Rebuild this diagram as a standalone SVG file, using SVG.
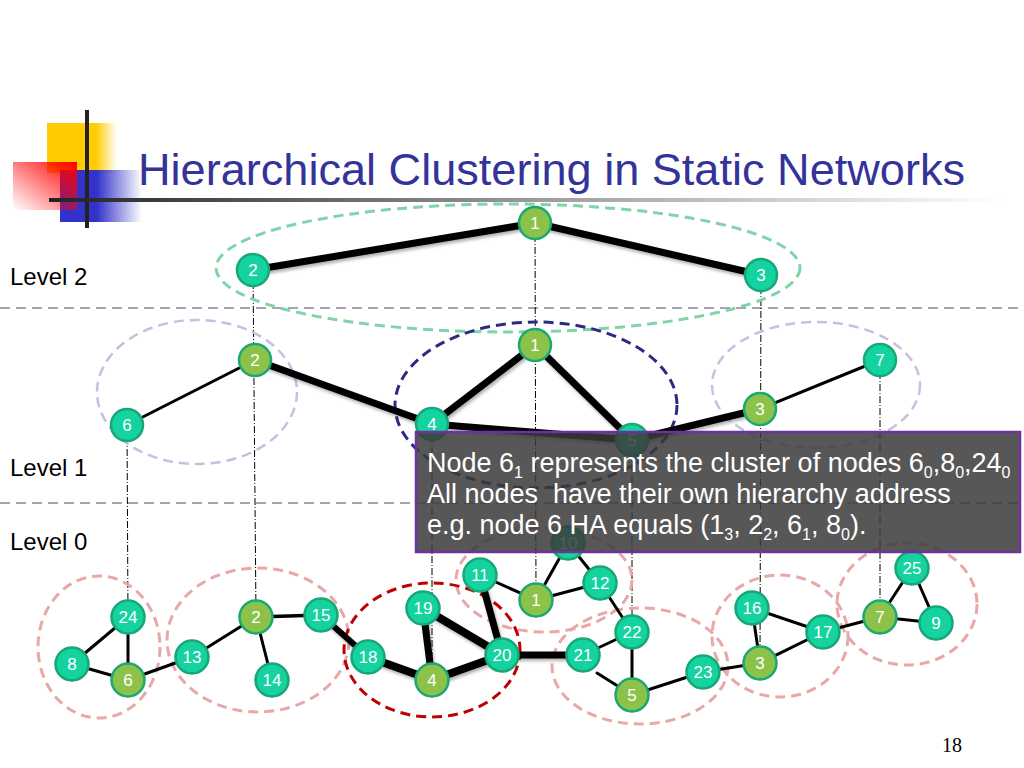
<svg xmlns="http://www.w3.org/2000/svg" width="1024" height="768" viewBox="0 0 1024 768">
<defs>
<linearGradient id="gYel" x1="0" y1="0" x2="1" y2="0"><stop offset="0.7" stop-color="#ffcc00"/><stop offset="1" stop-color="#ffcc00" stop-opacity="0"/></linearGradient>
<linearGradient id="gBlue" x1="0" y1="0" x2="1" y2="0"><stop offset="0.45" stop-color="#3333cc"/><stop offset="1" stop-color="#3333cc" stop-opacity="0"/></linearGradient>
<linearGradient id="gRed" x1="1" y1="0" x2="0" y2="1"><stop offset="0" stop-color="#ff0000"/><stop offset="1" stop-color="#ff0000" stop-opacity="0"/></linearGradient>
<linearGradient id="gLine" x1="0" y1="0" x2="1" y2="0"><stop offset="0" stop-color="#222"/><stop offset="0.5" stop-color="#999"/><stop offset="1" stop-color="#fff"/></linearGradient>
<filter id="sh" x="-10%" y="-50%" width="120%" height="200%"><feDropShadow dx="1.5" dy="2.5" stdDeviation="1.5" flood-color="#000" flood-opacity="0.3"/></filter>
</defs>
<style>
.t{font-family:"Liberation Sans",Arial,sans-serif}
.lvl{font-family:"Liberation Sans",Arial,sans-serif;font-size:24px;fill:#000}
.sep{stroke:#8e80a6;stroke-width:1.5;stroke-dasharray:10 6;fill:none}
.vd{stroke:#000;stroke-width:1;stroke-dasharray:7 2 1 2;fill:none}
.e{stroke:#000;stroke-linecap:round;fill:none}
.thin{stroke-width:3}
.thick{stroke-width:7}
.el{fill:none;stroke-width:3;stroke-dasharray:10 6}
.pink{stroke:#e8a8a8}
.lav{stroke:#c4c0e0;stroke-width:2.5}
.navy{stroke:#2b2b85}
.grn{stroke:#7fd4a8}
.dred{stroke:#c00000}
.nt{fill:#14d3a0;stroke:#18a775;stroke-width:2.5}
.nl{fill:#8cc24a;stroke:#1aa873;stroke-width:2.5}
.lab{font-family:"Liberation Sans",Arial,sans-serif;font-size:17px;fill:#fff;text-anchor:middle}
.box{font-family:"Liberation Sans",Arial,sans-serif;font-size:27px;fill:#fff}
.sub{font-size:16px}
</style>
<rect width="1024" height="768" fill="#fff"/>
<!-- logo -->
<rect x="47" y="123" width="70" height="50" fill="url(#gYel)"/>
<rect x="60" y="170" width="82" height="52" fill="url(#gBlue)"/>
<rect x="13" y="162" width="64" height="48" fill="url(#gRed)"/>
<line x1="87" y1="110" x2="87" y2="228" stroke="#222" stroke-width="4"/>
<rect x="49" y="198" width="955" height="4" fill="url(#gLine)"/>
<text class="t" x="138" y="185" font-size="45" fill="#333399" textLength="827" lengthAdjust="spacingAndGlyphs">Hierarchical Clustering in Static Networks</text>
<!-- level labels -->
<text class="lvl" x="10" y="285">Level 2</text>
<text class="lvl" x="10" y="476">Level 1</text>
<text class="lvl" x="10" y="550">Level 0</text>
<line class="sep" x1="0" y1="308" x2="1024" y2="308"/>
<line class="sep" x1="0" y1="503" x2="1024" y2="503"/>
<!-- vertical projections -->
<g id="projections">
<line class="vd" x1="253" y1="270" x2="256" y2="617"/>
<line class="vd" x1="535" y1="223" x2="536" y2="600"/>
<line class="vd" x1="761" y1="275" x2="760" y2="663"/>
<line class="vd" x1="127" y1="425" x2="128" y2="617"/>
<line class="vd" x1="432" y1="424" x2="432" y2="680"/>
<line class="vd" x1="632" y1="440" x2="632" y2="695"/>
<line class="vd" x1="880" y1="360" x2="880" y2="617"/>
</g>
<!-- clusters -->
<g id="clusters">
<ellipse class="el grn" cx="508" cy="268" rx="292" ry="64"/>
<ellipse class="el lav" cx="197" cy="392" rx="100" ry="72"/>
<ellipse class="el navy" cx="536" cy="405" rx="141" ry="83"/>
<ellipse class="el lav" cx="816" cy="385" rx="104" ry="63"/>
<ellipse class="el pink" cx="99" cy="647" rx="61" ry="71"/>
<ellipse class="el pink" cx="258" cy="640" rx="91" ry="72"/>
<ellipse class="el pink" cx="544" cy="580" rx="88" ry="52"/>
<ellipse class="el pink" cx="640" cy="666" rx="88" ry="58"/>
<ellipse class="el pink" cx="780" cy="636" rx="68" ry="61"/>
<ellipse class="el pink" cx="907" cy="604" rx="70" ry="61"/>
<ellipse class="el dred" cx="432" cy="650" rx="88" ry="67"/>
</g>
<!-- connectors -->
<g id="connectors">
<g filter="url(#sh)">
<line class="e thick" x1="253" y1="270" x2="535" y2="223"/>
<line class="e thick" x1="535" y1="223" x2="761" y2="275"/>
<line class="e thick" x1="255" y1="360" x2="432" y2="424"/>
<line class="e thick" x1="432" y1="424" x2="535" y2="345"/>
<line class="e thick" x1="535" y1="345" x2="632" y2="440"/>
<line class="e thick" x1="432" y1="424" x2="632" y2="440"/>
<line class="e thick" x1="632" y1="440" x2="760" y2="409"/>
<line class="e" stroke-width="6" x1="321" y1="615" x2="368" y2="657"/>
<line class="e" stroke-width="8" x1="368" y1="657" x2="432" y2="680"/>
<line class="e" stroke-width="7" x1="423" y1="608" x2="432" y2="680"/>
<line class="e" stroke-width="8" x1="423" y1="608" x2="502" y2="655"/>
<line class="e" stroke-width="8" x1="432" y1="680" x2="502" y2="655"/>
<line class="e" stroke-width="7" x1="480" y1="575" x2="502" y2="655"/>
<line class="e" stroke-width="7" x1="502" y1="655" x2="583" y2="655"/>
</g>
<line class="e thin" x1="127" y1="425" x2="255" y2="360"/>
<line class="e thin" x1="760" y1="409" x2="880" y2="360"/>
<line class="e thin" x1="128" y1="617" x2="72" y2="664"/>
<line class="e thin" x1="128" y1="617" x2="128" y2="680"/>
<line class="e thin" x1="72" y1="664" x2="128" y2="680"/>
<line class="e thin" x1="128" y1="680" x2="192" y2="657"/>
<line class="e thin" x1="192" y1="657" x2="256" y2="617"/>
<line class="e thin" x1="256" y1="617" x2="272" y2="680"/>
<line class="e" stroke-width="3.5" x1="256" y1="617" x2="321" y2="615"/>
<line class="e thin" x1="480" y1="575" x2="536" y2="600"/>
<line class="e thin" x1="536" y1="600" x2="568" y2="543"/>
<line class="e thin" x1="568" y1="543" x2="600" y2="583"/>
<line class="e thin" x1="536" y1="600" x2="600" y2="583"/>
<line class="e thin" x1="600" y1="583" x2="632" y2="632"/>
<line class="e thin" x1="583" y1="655" x2="632" y2="632"/>
<line class="e thin" x1="632" y1="632" x2="632" y2="695"/>
<line class="e thin" x1="597" y1="673" x2="632" y2="695"/>
<line class="e thin" x1="632" y1="695" x2="703" y2="672"/>
<line class="e thin" x1="703" y1="672" x2="760" y2="663"/>
<line class="e thin" x1="760" y1="663" x2="752" y2="608"/>
<line class="e thin" x1="752" y1="608" x2="823" y2="632"/>
<line class="e thin" x1="760" y1="663" x2="823" y2="632"/>
<line class="e thin" x1="823" y1="632" x2="880" y2="617"/>
<line class="e thin" x1="880" y1="617" x2="912" y2="568"/>
<line class="e thin" x1="912" y1="568" x2="936" y2="623"/>
<line class="e thin" x1="880" y1="617" x2="936" y2="623"/>
</g>
<!-- level 2 nodes -->
<g id="L2-1"><circle class="nl" cx="535" cy="223" r="16"/><text class="lab" x="535" y="229">1</text></g>
<g id="L2-2"><circle class="nt" cx="253" cy="270" r="16"/><text class="lab" x="253" y="276">2</text></g>
<g id="L2-3"><circle class="nt" cx="761" cy="275" r="16"/><text class="lab" x="761" y="281">3</text></g>
<!-- level 1 nodes -->
<g id="L1-1"><circle class="nl" cx="535" cy="345" r="16"/><text class="lab" x="535" y="351">1</text></g>
<g id="L1-2"><circle class="nl" cx="255" cy="360" r="16"/><text class="lab" x="255" y="366">2</text></g>
<g id="L1-6"><circle class="nt" cx="127" cy="425" r="16"/><text class="lab" x="127" y="431">6</text></g>
<g id="L1-4"><circle class="nt" cx="432" cy="424" r="16"/><text class="lab" x="432" y="430">4</text></g>
<g id="L1-5"><circle class="nt" cx="632" cy="440" r="16"/><text class="lab" x="632" y="446">5</text></g>
<g id="L1-3"><circle class="nl" cx="760" cy="409" r="16"/><text class="lab" x="760" y="415">3</text></g>
<g id="L1-7"><circle class="nt" cx="880" cy="360" r="16"/><text class="lab" x="880" y="366">7</text></g>
<!-- level 0 nodes -->
<g id="L0-24"><circle class="nt" cx="128" cy="617" r="16.5"/><text class="lab" x="128" y="623">24</text></g>
<g id="L0-8"><circle class="nt" cx="72" cy="664" r="16.5"/><text class="lab" x="72" y="670">8</text></g>
<g id="L0-6"><circle class="nl" cx="128" cy="680" r="16.5"/><text class="lab" x="128" y="686">6</text></g>
<g id="L0-13"><circle class="nt" cx="192" cy="657" r="16.5"/><text class="lab" x="192" y="663">13</text></g>
<g id="L0-2"><circle class="nl" cx="256" cy="617" r="16.5"/><text class="lab" x="256" y="623">2</text></g>
<g id="L0-14"><circle class="nt" cx="272" cy="680" r="16.5"/><text class="lab" x="272" y="686">14</text></g>
<g id="L0-15"><circle class="nt" cx="321" cy="615" r="16.5"/><text class="lab" x="321" y="621">15</text></g>
<g id="L0-18"><circle class="nt" cx="368" cy="657" r="16.5"/><text class="lab" x="368" y="663">18</text></g>
<g id="L0-19"><circle class="nt" cx="423" cy="608" r="16.5"/><text class="lab" x="423" y="614">19</text></g>
<g id="L0-4"><circle class="nl" cx="432" cy="680" r="16.5"/><text class="lab" x="432" y="686">4</text></g>
<g id="L0-20"><circle class="nt" cx="502" cy="655" r="16.5"/><text class="lab" x="502" y="661">20</text></g>
<g id="L0-11"><circle class="nt" cx="480" cy="575" r="16.5"/><text class="lab" x="480" y="581">11</text></g>
<g id="L0-1"><circle class="nl" cx="536" cy="600" r="16.5"/><text class="lab" x="536" y="606">1</text></g>
<g id="L0-10"><circle class="nt" cx="568" cy="543" r="16.5"/><text class="lab" x="568" y="549">10</text></g>
<g id="L0-12"><circle class="nt" cx="600" cy="583" r="16.5"/><text class="lab" x="600" y="589">12</text></g>
<g id="L0-22"><circle class="nt" cx="632" cy="632" r="16.5"/><text class="lab" x="632" y="638">22</text></g>
<g id="L0-21"><circle class="nt" cx="583" cy="655" r="16.5"/><text class="lab" x="583" y="661">21</text></g>
<g id="L0-5"><circle class="nl" cx="632" cy="695" r="16.5"/><text class="lab" x="632" y="701">5</text></g>
<g id="L0-23"><circle class="nt" cx="703" cy="672" r="16.5"/><text class="lab" x="703" y="678">23</text></g>
<g id="L0-16"><circle class="nt" cx="752" cy="608" r="16.5"/><text class="lab" x="752" y="614">16</text></g>
<g id="L0-3"><circle class="nl" cx="760" cy="663" r="16.5"/><text class="lab" x="760" y="669">3</text></g>
<g id="L0-17"><circle class="nt" cx="823" cy="632" r="16.5"/><text class="lab" x="823" y="638">17</text></g>
<g id="L0-7"><circle class="nl" cx="880" cy="617" r="16.5"/><text class="lab" x="880" y="623">7</text></g>
<g id="L0-25"><circle class="nt" cx="912" cy="568" r="16.5"/><text class="lab" x="912" y="574">25</text></g>
<g id="L0-9"><circle class="nt" cx="936" cy="623" r="16.5"/><text class="lab" x="936" y="629">9</text></g>
<!-- note box -->
<g id="note">
<rect x="416" y="432" width="604" height="120" fill="#3a3a3a" fill-opacity="0.85" stroke="#7030a0" stroke-width="2.5"/>
<text class="box" x="427" y="472">Node 6<tspan class="sub" dy="6">1</tspan><tspan dy="-6"> represents the cluster of nodes 6</tspan><tspan class="sub" dy="6">0</tspan><tspan dy="-6">,8</tspan><tspan class="sub" dy="6">0</tspan><tspan dy="-6">,24</tspan><tspan class="sub" dy="6">0</tspan></text>
<text class="box" x="427" y="503" xml:space="preserve">All nodes  have their own hierarchy address</text>
<text class="box" x="427" y="534">e.g. node 6 HA equals (1<tspan class="sub" dy="6">3</tspan><tspan dy="-6">, 2</tspan><tspan class="sub" dy="6">2</tspan><tspan dy="-6">, 6</tspan><tspan class="sub" dy="6">1</tspan><tspan dy="-6">, 8</tspan><tspan class="sub" dy="6">0</tspan><tspan dy="-6">).</tspan></text>
</g>
<text x="952" y="752" font-family="Liberation Serif,serif" font-size="20" text-anchor="middle" fill="#000">18</text>
</svg>
